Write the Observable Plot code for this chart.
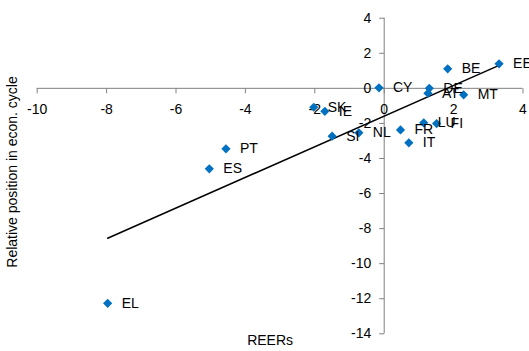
<!DOCTYPE html>
<html>
<head>
<meta charset="utf-8">
<script src="https://cdn.jsdelivr.net/npm/d3@7"></script>
<script src="https://cdn.jsdelivr.net/npm/@observablehq/plot@0.6"></script>
<style>
  html, body { margin: 0; padding: 0; background: #fff; overflow: hidden; }
  svg { display: block; }
</style>
</head>
<body>
<div id="chart"></div>
<script>
// Country codes
const countries = ["EE", "BE", "CY", "DE", "AT", "MT", "SK", "IE", "SI", "NL", "FR", "LU", "FI", "IT", "PT", "ES", "EL"];
// REERs (x)
const reers = [3.31, 1.83, -0.15, 1.30, 1.26, 2.29, -2.03, -1.71, -1.50, -0.73, 0.47, 1.14, 1.51, 0.71, -4.56, -5.04, -7.97];
// Relative position in econ. cycle (y)
const cycle = [1.40, 1.11, 0.03, 0.00, -0.28, -0.37, -1.08, -1.31, -2.73, -2.54, -2.37, -1.97, -2.01, -3.11, -3.45, -4.59, -12.26];
// Tick labels
const xTicks = [-10, -8, -6, -4, -2, 0, 2, 4];
const yTicks = [4, 2, 0, -2, -4, -6, -8, -10, -12, -14];

const data = countries.map((c, i) => ({name: c, x: reers[i], y: cycle[i]}));

const font = "'Liberation Sans', Arial, sans-serif";
const axisColor = "#808080";
const blue = "#0070C0";

const tickDown = {draw(ctx) { ctx.moveTo(0, 0); ctx.lineTo(0, 5); }};
const tickLeft = {draw(ctx) { ctx.moveTo(0, 0); ctx.lineTo(-5, 0); }};
const diamond = {draw(ctx) { const r = 4.6; ctx.moveTo(0, -r); ctx.lineTo(r, 0); ctx.lineTo(0, r); ctx.lineTo(-r, 0); ctx.closePath(); }};

const chart = Plot.plot({
  width: 529,
  height: 351,
  marginLeft: 36.7,
  marginRight: 6.5,
  marginTop: 17.7,
  marginBottom: 17.7,
  style: {fontFamily: font, fontSize: "14px", background: "#fff", color: "#000", overflow: "hidden"},
  x: {domain: [-10, 4], axis: null},
  y: {domain: [-14, 4], axis: null},
  marks: [
    Plot.ruleY([0], {stroke: axisColor, strokeWidth: 1}),
    Plot.ruleX([0], {stroke: axisColor, strokeWidth: 1}),
    Plot.dot(xTicks, {x: d => d, y: 0, symbol: tickDown, stroke: axisColor, fill: "none", strokeWidth: 1}),
    Plot.dot(yTicks, {x: 0, y: d => d, symbol: tickLeft, stroke: axisColor, fill: "none", strokeWidth: 1}),
    Plot.text(xTicks, {x: d => d, y: 0, text: d => String(d), dy: 21, fill: "#000", fontSize: 14}),
    Plot.text(yTicks, {x: 0, y: d => d, text: d => String(d), dx: -13, textAnchor: "end", fill: "#000", fontSize: 14}),
    Plot.linearRegressionY(data, {x: "x", y: "y", ci: 0, stroke: "#000", strokeWidth: 1.5}),
    Plot.dot(data, {x: "x", y: "y", symbol: diamond, fill: blue, stroke: "none"}),
    Plot.text(data, {x: "x", y: "y", text: "name", dx: 14, textAnchor: "start", fill: "#000", fontSize: 14}),
    Plot.text(["REERs"], {frameAnchor: "bottom", dy: 11, dx: -10, fill: "#000", fontSize: 14}),
    Plot.text(["Relative position in econ. cycle"], {frameAnchor: "left", textAnchor: "middle", rotate: -90, dx: -25, dy: -4, fill: "#000", fontSize: 14})
  ]
});

document.getElementById("chart").appendChild(chart);
</script>
</body>
</html>
